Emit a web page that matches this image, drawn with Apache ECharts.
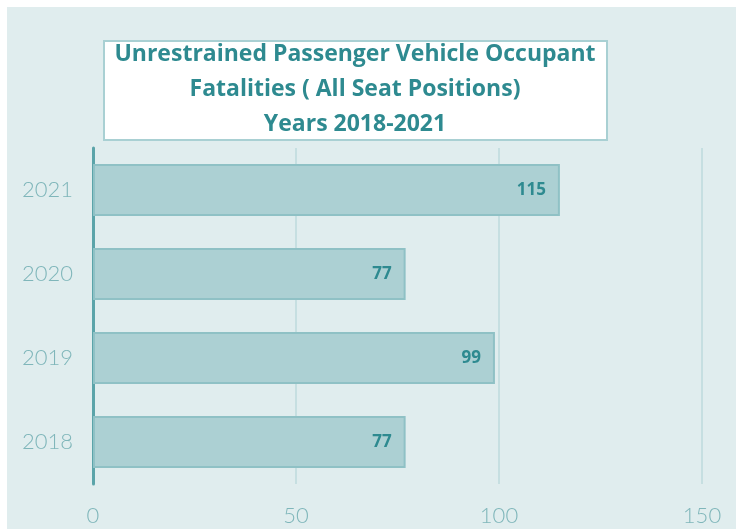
<!DOCTYPE html>
<html>
<head>
<meta charset="utf-8">
<script src="https://cdn.jsdelivr.net/npm/echarts@6/dist/echarts.min.js"></script>
<style>
  html, body { margin: 0; padding: 0; background: #ffffff; }
  #chart { position: absolute; left: 7px; top: 7px; width: 729px; height: 522px; background: #e0edee; }
</style>
</head>
<body>
<div id="chart"></div>
<script>
// data
var years = ['2018', '2019', '2020', '2021'];
var fatalities = [77, 99, 77, 115];
var xTicks = [0, 50, 100, 150];

var titleLines = [
  'Unrestrained Passenger Vehicle Occupant',
  'Fatalities ( All Seat Positions)',
  'Years 2018-2021'
];

var teal = '#2e8a90';
var chart = echarts.init(document.getElementById('chart'));
chart.setOption({
  animation: false,
  // title box drawn as graphic so it sits exactly like the original
  graphic: [
    {
      type: 'rect',
      shape: { x: 97, y: 34, width: 503, height: 99 },
      style: { fill: '#ffffff', stroke: '#a9d0d3', lineWidth: 2 }
    },
    {
      type: 'text',
      x: 348,
      y: 30,
      style: {
        text: titleLines.join('\n'),
        align: 'center',
        verticalAlign: 'top',
        fontFamily: 'Open Sans',
        fontWeight: 'bold',
        fontSize: 23,
        lineHeight: 35,
        fill: teal
      }
    }
  ],
  grid: { left: 86, right: 34, top: 141, bottom: 45 },
  xAxis: {
    type: 'value',
    min: xTicks[0],
    max: xTicks[xTicks.length - 1],
    interval: 50,
    axisLine: { show: false },
    axisTick: { show: false },
    splitLine: { lineStyle: { color: '#c6dfe1', width: 2 } },
    axisLabel: { fontFamily: 'Lato', fontWeight: 300, fontSize: 22, color: '#7fb6ba', margin: 21 }
  },
  yAxis: {
    type: 'category',
    data: years,
    axisLine: { lineStyle: { color: '#5ba4a9', width: 3 } },
    axisTick: { show: false },
    axisLabel: { fontFamily: 'Lato', fontWeight: 300, fontSize: 22, color: '#7fb6ba', margin: 20 }
  },
  series: [{
    type: 'bar',
    data: fatalities,
    barCategoryGap: '38%',
    itemStyle: { color: '#acd0d3', borderColor: '#8fc1c5', borderWidth: 2 },
    label: {
      show: true,
      position: 'insideRight',
      distance: 14,
      fontFamily: 'Open Sans',
      fontWeight: 'bold',
      fontSize: 17,
      color: teal
    }
  }]
});
</script>
</body>
</html>
